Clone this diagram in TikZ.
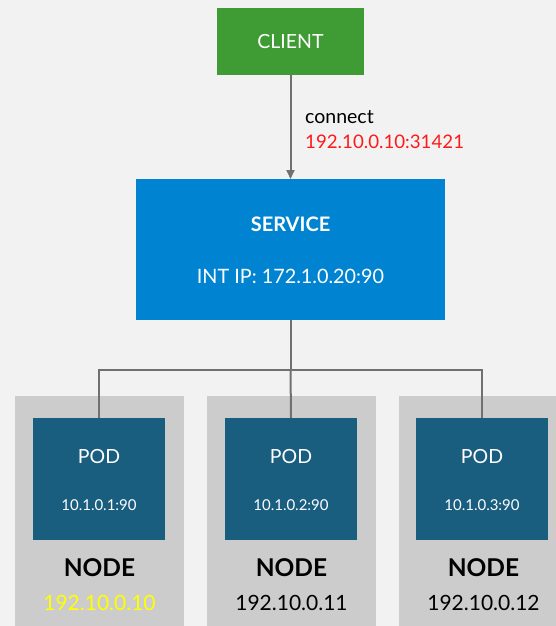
\documentclass[tikz,border=0pt]{standalone}
\usepackage{fontspec}
\setmainfont{Lato}
\usetikzlibrary{arrows.meta}
\definecolor{bgc}{HTML}{F2F2F2}
\definecolor{clientc}{HTML}{3F9C35}
\definecolor{servicec}{HTML}{0084D1}
\definecolor{podc}{HTML}{195E7F}
\definecolor{hostc}{HTML}{CCCCCC}
\definecolor{linec}{HTML}{707070}
\definecolor{redc}{HTML}{FF1A1A}
\definecolor{yelc}{HTML}{FFFF00}
\tikzset{
  box/.style={draw=none, inner sep=0pt, outer sep=0pt, anchor=north west},
  wire/.style={draw=linec, line width=2pt},
  podbox/.style={box, fill=podc, minimum width=132pt, minimum height=122pt},
  hostbox/.style={box, fill=hostc, minimum width=169pt, minimum height=230pt},
  wtxt/.style={text=white, inner sep=0pt},
}
\begin{document}
\begin{tikzpicture}[x=1pt, y=-1pt]
  \fill[bgc] (0,0) rectangle (556,626);
  \useasboundingbox (0,0) rectangle (556,626);

  % client and service
  \node[box, fill=clientc, minimum width=147pt, minimum height=67pt] (client) at (217,8) {};
  \node[wtxt, font=\fontsize{19.5}{21}\selectfont] at (290.5,42) {CLIENT};
  \node[box, fill=servicec, minimum width=309pt, minimum height=141pt] (service) at (136,179) {};
  \node[wtxt, font=\fontsize{20}{22}\selectfont\bfseries] at (290.5,224) {SERVICE};
  \node[wtxt, font=\fontsize{19.8}{22}\selectfont] at (290.5,276) {INT IP: 172.1.0.20:90};

  \draw[wire, -{Triangle[length=9pt,width=8pt]}] (client.south) -- (service.north);
  \node[anchor=base west, inner sep=0pt, font=\fontsize{19.5}{21}\selectfont] at (305,123) {connect};
  \node[anchor=base west, inner sep=0pt, text=redc, font=\fontsize{18.7}{21}\selectfont] at (305,148) {192.10.0.10:31421};

  % hosts with their pods
  \foreach \i/\hx/\px/\pip/\hip/\hcol in {1/15/33/10.1.0.1:90/192.10.0.10/yelc,
                                         2/207/225/10.1.0.2:90/192.10.0.11/black,
                                         3/399/416/10.1.0.3:90/192.10.0.12/black}{
    \node[hostbox] (host\i) at (\hx,396) {};
    \node[podbox] (pod\i) at (\px,418) {};
    \node[wtxt, font=\fontsize{19.5}{21}\selectfont] at ([yshift=-39pt]pod\i.north) {POD};
    \node[wtxt, font=\fontsize{15}{17}\selectfont] at ([yshift=-87pt]pod\i.north) {\pip};
    \node[inner sep=0pt, font=\fontsize{24.5}{26}\selectfont\bfseries] at ([yshift=-172pt]host\i.north) {NODE};
    \node[inner sep=0pt, text=\hcol, font=\fontsize{21}{23}\selectfont] at ([yshift=-207pt]host\i.north) {\hip};
  }

  % fan-out from the service to the pods
  \coordinate (split) at (290.5,370);
  \draw[wire] (service.south) -- (split);
  \draw[wire] (split) -| (pod1.north);
  \draw[wire] (split) -- (pod2.north);
  \draw[wire] (split) -| (pod3.north);
\end{tikzpicture}
\end{document}
